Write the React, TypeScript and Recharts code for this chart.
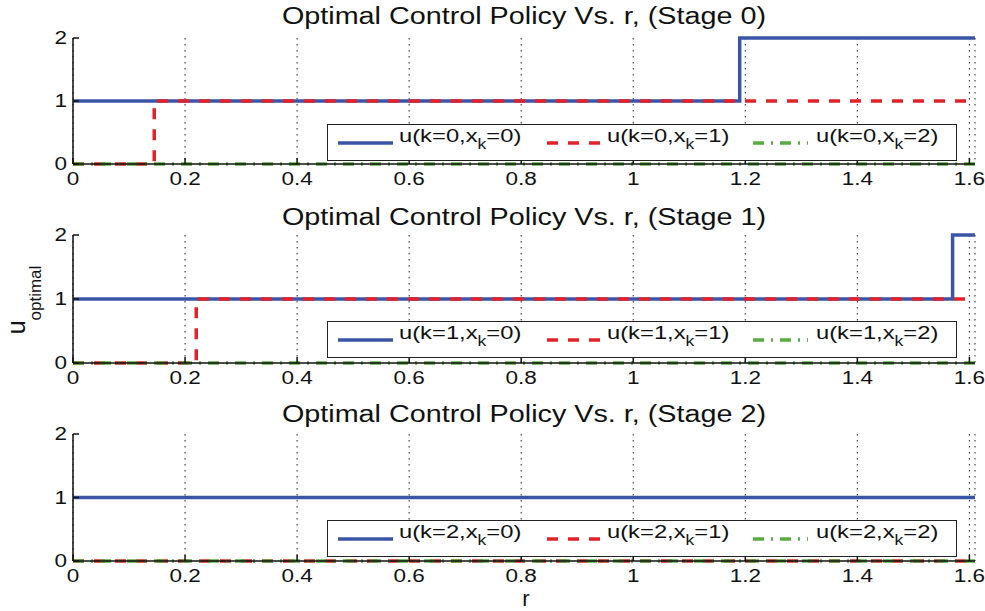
import React from "react";
import { LineChart, Line, XAxis, YAxis, CartesianGrid, Legend } from "recharts";

// breakpoints of the step policies
const rStage0 = [0, 0.145, 1.19, 1.61];
const u0Stage0 = [1, 1, 2, 2];
const u1Stage0 = [0, 1, 1, 1];
const u2Stage0 = [0, 0, 0, 0];

const rStage1 = [0, 0.22, 1.57, 1.61];
const u0Stage1 = [1, 1, 2, 2];
const u1Stage1 = [0, 1, 1, 1];
const u2Stage1 = [0, 0, 0, 0];

const rStage2 = [0, 1.61];
const u0Stage2 = [1, 1];
const u1Stage2 = [0, 0];
const u2Stage2 = [0, 0];

const xTicks = [0, 0.2, 0.4, 0.6, 0.8, 1, 1.2, 1.4, 1.6];
const yTicks = [0, 1, 2];

const FONT = '"Liberation Sans", Arial, Helvetica, sans-serif';
const BLUE = "#3a55a5";
const RED = "#e2212b";
const GREEN = "#5bab45";
const RED_DASH = "11 10";
const GREEN_DASH = "11 7 2 7";
const STRETCH = 1.25; // the original text is drawn wider than usual

function build(r: number[], a: number[], b: number[], c: number[]) {
  return r.map((x, i) => ({ r: x, u0: a[i], u1: b[i], u2: c[i] }));
}

const stages = [
  { k: 0, data: build(rStage0, u0Stage0, u1Stage0, u2Stage0), top: 0, height: 200, titleTop: 4, margin: { top: 38, right: 10, bottom: 6, left: 43 } },
  { k: 1, data: build(rStage1, u0Stage1, u1Stage1, u2Stage1), top: 200, height: 200, titleTop: 5, margin: { top: 35, right: 10, bottom: 7, left: 43 } },
  { k: 2, data: build(rStage2, u0Stage2, u1Stage2, u2Stage2), top: 400, height: 211, titleTop: 2, margin: { top: 34, right: 10, bottom: 20, left: 43 } },
];

function XTick(props: any) {
  const { x, y, payload } = props;
  return (
    <text transform={`translate(${x},${y}) scale(${STRETCH},1)`} textAnchor="middle" dy={13} fill="#111" fontSize={18} fontFamily={FONT}>
      {payload.value}
    </text>
  );
}

function YTick(props: any) {
  const { x, y, payload } = props;
  return (
    <text transform={`translate(${x},${y}) scale(${STRETCH},1)`} textAnchor="end" dy={6} fill="#111" fontSize={18} fontFamily={FONT}>
      {payload.value}
    </text>
  );
}

function Sample({ color, dash }: { color: string; dash?: string }) {
  return (
    <svg width={55} height={10} style={{ position: "absolute", top: 13, left: 0 }}>
      <line x1={0} y1={5} x2={55} y2={5} stroke={color} strokeWidth={3.5} strokeDasharray={dash} />
    </svg>
  );
}

function LegendBox({ k }: { k: number }) {
  const items = [
    { color: BLUE, dash: undefined, x: 10, tx: 71, v: 0 },
    { color: RED, dash: RED_DASH, x: 219, tx: 279, v: 1 },
    { color: GREEN, dash: GREEN_DASH, x: 425, tx: 488, v: 2 },
  ];
  return (
    <div
      style={{
        position: "relative",
        width: 628,
        height: 35,
        border: "1.5px solid #222",
        background: "#fff",
        fontFamily: FONT,
        fontSize: 19,
        color: "#111",
      }}
    >
      {items.map((it) => (
        <React.Fragment key={it.v}>
          <div style={{ position: "absolute", left: it.x, top: 0 }}>
            <Sample color={it.color} dash={it.dash} />
          </div>
          <div
            style={{
              position: "absolute",
              left: it.tx,
              top: -1,
              whiteSpace: "nowrap",
              lineHeight: "24px",
              transform: `scaleX(${STRETCH})`,
              transformOrigin: "left center",
            }}
          >
            u(k={k},x<sub style={{ fontSize: 14, verticalAlign: -7 }}>k</sub>={it.v})
          </div>
        </React.Fragment>
      ))}
    </div>
  );
}

function StageChart({ stage }: { stage: (typeof stages)[number] }) {
  const last = stage.k === 2;
  return (
    <div style={{ position: "absolute", left: 0, top: stage.top, width: 985, height: stage.height }}>
      <div
        style={{
          position: "absolute",
          left: 73,
          width: 902,
          top: stage.titleTop,
          textAlign: "center",
          fontFamily: FONT,
          fontSize: 23,
          lineHeight: "24px",
          color: "#111",
          whiteSpace: "nowrap",
          transform: `scaleX(${STRETCH})`,
          transformOrigin: "center",
        }}
      >
        Optimal Control Policy Vs. r, (Stage {stage.k})
      </div>
      <LineChart width={985} height={stage.height} data={stage.data} margin={stage.margin}>
        <CartesianGrid horizontal={false} stroke="#222" strokeDasharray="1.5 4.5" />
        <XAxis
          dataKey="r"
          type="number"
          domain={[0, 1.61]}
          ticks={xTicks}
          allowDataOverflow
          height={30}
          stroke="#111"
          strokeWidth={1.5}
          tickSize={-6}
          tickMargin={14}
          tick={<XTick />}
          label={
            last
              ? {
                  content: () => (
                    <text x={526} y={206} textAnchor="middle" fill="#111" fontFamily={FONT} fontSize={22}>
                      r
                    </text>
                  ),
                }
              : undefined
          }
        />
        <XAxis xAxisId="top" orientation="top" dataKey="r" type="number" domain={[0, 1.61]} height={0} tick={false} stroke="#111" strokeWidth={1.5} />
        <YAxis
          domain={[0, 2]}
          ticks={yTicks}
          width={30}
          stroke="#111"
          strokeWidth={1.5}
          tickSize={-6}
          tickMargin={12}
          tick={<YTick />}
          label={
            stage.k === 1
              ? {
                  content: () => (
                    <text transform="rotate(-90, 25, 100)" x={25} y={100} textAnchor="middle" fill="#111" fontFamily={FONT} fontSize={25}>
                      u<tspan fontSize={17} dy={16}>optimal</tspan>
                    </text>
                  ),
                }
              : undefined
          }
        />
        <YAxis yAxisId="right" orientation="right" domain={[0, 2]} width={0} tick={false} stroke="#111" strokeWidth={1.5} />
        <Legend
          layout="horizontal"
          verticalAlign="middle"
          align="center"
          wrapperStyle={{ left: 327, top: stage.margin.top + 86, width: 632 }}
          content={() => <LegendBox k={stage.k} />}
        />
        <Line type="stepAfter" dataKey="u0" stroke={BLUE} strokeWidth={3.5} dot={false} isAnimationActive={false} />
        <Line type="stepAfter" dataKey="u1" stroke={RED} strokeWidth={3.5} strokeDasharray={RED_DASH} dot={false} isAnimationActive={false} />
        <Line type="stepAfter" dataKey="u2" stroke={GREEN} strokeWidth={3.5} strokeDasharray={GREEN_DASH} dot={false} isAnimationActive={false} />
      </LineChart>
    </div>
  );
}

export default function App() {
  return (
    <div style={{ position: "absolute", left: 0, top: 0, width: 985, height: 611, background: "#fff" }}>
      {stages.map((s) => (
        <StageChart key={s.k} stage={s} />
      ))}
    </div>
  );
}
